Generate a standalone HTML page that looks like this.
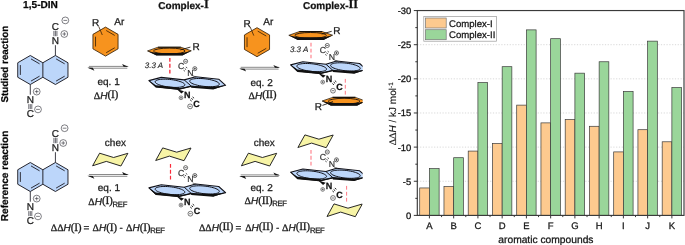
<!DOCTYPE html>
<html><head><meta charset="utf-8"><title>figure</title>
<style>
html,body{margin:0;padding:0;background:#fff;}
body{width:685px;height:245px;overflow:hidden;font-family:"Liberation Sans",sans-serif;}
svg{display:block;}
text{text-rendering:geometricPrecision;stroke:#222;stroke-width:0.28px;stroke-linejoin:round;}
</style></head><body>
<svg width="685" height="245" viewBox="0 0 685 245" style="will-change:transform">
<rect x="0" y="0" width="685" height="245" fill="#fff"/>
<defs><clipPath id="cl"><rect x="0" y="0" width="362.6" height="245"/></clipPath></defs>
<g id="scheme" clip-path="url(#cl)">
<text x="40.5" y="8.4" font-size="10.1" text-anchor="middle" font-weight="bold" font-style="normal" font-family='"Liberation Sans", sans-serif' fill="#000" >1,5-DIN</text>
<text x="183.5" y="8.6" font-size="10" text-anchor="middle" font-weight="bold" font-family='"Liberation Sans", sans-serif' fill="#111">Complex-<tspan font-family='"Liberation Serif", serif' font-size="12.3" dy="-0.5">I</tspan></text>
<text x="330.6" y="8.6" font-size="10" text-anchor="middle" font-weight="bold" font-family='"Liberation Sans", sans-serif' fill="#111">Complex-<tspan font-family='"Liberation Serif", serif' font-size="12.3" dy="-0.5">II</tspan></text>
<text transform="translate(7.6,64.2) rotate(-90)" font-size="9.8" text-anchor="middle" font-weight="bold" font-family='"Liberation Sans", sans-serif' fill="#000">Studied reaction</text>
<text transform="translate(7.6,175.9) rotate(-90)" font-size="10.05" text-anchor="middle" font-weight="bold" font-family='"Liberation Sans", sans-serif' fill="#000">Reference reaction</text>
<polygon points="30.3,55.5 42.86,62.75 55.41,55.5 67.97,62.75 67.97,77.25 55.41,84.5 42.86,77.25 30.3,84.5 17.74,77.25 17.74,62.75" fill="#bcd6fa" stroke="#25252e" stroke-width="1" stroke-linejoin="round" />
<line x1="42.86" y1="62.75" x2="42.86" y2="77.25" stroke="#25252e" stroke-width="1" />
<line x1="31.01" y1="58.91" x2="39.55" y2="63.84" stroke="#25252e" stroke-width="0.95" />
<line x1="39.55" y1="76.16" x2="31.01" y2="81.09" stroke="#25252e" stroke-width="0.95" />
<line x1="20.34" y1="74.93" x2="20.34" y2="65.07" stroke="#25252e" stroke-width="0.95" />
<line x1="56.12" y1="58.91" x2="64.66" y2="63.84" stroke="#25252e" stroke-width="0.95" />
<line x1="64.66" y1="76.16" x2="56.12" y2="81.09" stroke="#25252e" stroke-width="0.95" />
<line x1="55.41" y1="55.5" x2="55.41" y2="45.2" stroke="#2a2a33" stroke-width="0.9" />
<text x="55.41" y="44.1" font-size="10" text-anchor="middle" font-weight="normal" font-style="normal" font-family='"Liberation Sans", sans-serif' fill="#1a1a1a" >N</text>
<line x1="53.91" y1="36.2" x2="53.91" y2="30.9" stroke="#2a2a33" stroke-width="0.7" />
<line x1="55.41" y1="36.2" x2="55.41" y2="30.9" stroke="#2a2a33" stroke-width="0.7" />
<line x1="56.91" y1="36.2" x2="56.91" y2="30.9" stroke="#2a2a33" stroke-width="0.7" />
<text x="55.41" y="29.9" font-size="10" text-anchor="middle" font-weight="normal" font-style="normal" font-family='"Liberation Sans", sans-serif' fill="#1a1a1a" >C</text>
<circle cx="64.31" cy="34" r="3.4" fill="#fff" stroke="#2a2a33" stroke-width="0.6"/>
<line x1="62.44" y1="34" x2="66.18" y2="34" stroke="#2a2a33" stroke-width="0.6" />
<line x1="64.31" y1="32.13" x2="64.31" y2="35.87" stroke="#2a2a33" stroke-width="0.6" />
<circle cx="65.31" cy="20.4" r="3.4" fill="#fff" stroke="#2a2a33" stroke-width="0.6"/>
<line x1="63.44" y1="20.4" x2="67.18" y2="20.4" stroke="#2a2a33" stroke-width="0.6" />
<line x1="30.3" y1="84.5" x2="30.3" y2="94.7" stroke="#2a2a33" stroke-width="0.9" />
<text x="30.3" y="102.8" font-size="10" text-anchor="middle" font-weight="normal" font-style="normal" font-family='"Liberation Sans", sans-serif' fill="#1a1a1a" >N</text>
<line x1="28.8" y1="104.1" x2="28.8" y2="109.1" stroke="#2a2a33" stroke-width="0.7" />
<line x1="30.3" y1="104.1" x2="30.3" y2="109.1" stroke="#2a2a33" stroke-width="0.7" />
<line x1="31.8" y1="104.1" x2="31.8" y2="109.1" stroke="#2a2a33" stroke-width="0.7" />
<text x="30.3" y="116.8" font-size="10" text-anchor="middle" font-weight="normal" font-style="normal" font-family='"Liberation Sans", sans-serif' fill="#1a1a1a" >C</text>
<circle cx="36.7" cy="91.6" r="3.4" fill="#fff" stroke="#2a2a33" stroke-width="0.6"/>
<line x1="34.83" y1="91.6" x2="38.57" y2="91.6" stroke="#2a2a33" stroke-width="0.6" />
<line x1="36.7" y1="89.73" x2="36.7" y2="93.47" stroke="#2a2a33" stroke-width="0.6" />
<circle cx="38" cy="109.4" r="3.4" fill="#fff" stroke="#2a2a33" stroke-width="0.6"/>
<line x1="36.13" y1="109.4" x2="39.87" y2="109.4" stroke="#2a2a33" stroke-width="0.6" />
<polygon points="30.3,162.5 42.86,169.75 55.41,162.5 67.97,169.75 67.97,184.25 55.41,191.5 42.86,184.25 30.3,191.5 17.74,184.25 17.74,169.75" fill="#bcd6fa" stroke="#25252e" stroke-width="1" stroke-linejoin="round" />
<line x1="42.86" y1="169.75" x2="42.86" y2="184.25" stroke="#25252e" stroke-width="1" />
<line x1="31.01" y1="165.91" x2="39.55" y2="170.84" stroke="#25252e" stroke-width="0.95" />
<line x1="39.55" y1="183.16" x2="31.01" y2="188.09" stroke="#25252e" stroke-width="0.95" />
<line x1="20.34" y1="181.93" x2="20.34" y2="172.07" stroke="#25252e" stroke-width="0.95" />
<line x1="56.12" y1="165.91" x2="64.66" y2="170.84" stroke="#25252e" stroke-width="0.95" />
<line x1="64.66" y1="183.16" x2="56.12" y2="188.09" stroke="#25252e" stroke-width="0.95" />
<line x1="55.41" y1="162.5" x2="55.41" y2="152.2" stroke="#2a2a33" stroke-width="0.9" />
<text x="55.41" y="151.1" font-size="10" text-anchor="middle" font-weight="normal" font-style="normal" font-family='"Liberation Sans", sans-serif' fill="#1a1a1a" >N</text>
<line x1="53.91" y1="143.2" x2="53.91" y2="137.9" stroke="#2a2a33" stroke-width="0.7" />
<line x1="55.41" y1="143.2" x2="55.41" y2="137.9" stroke="#2a2a33" stroke-width="0.7" />
<line x1="56.91" y1="143.2" x2="56.91" y2="137.9" stroke="#2a2a33" stroke-width="0.7" />
<text x="55.41" y="136.9" font-size="10" text-anchor="middle" font-weight="normal" font-style="normal" font-family='"Liberation Sans", sans-serif' fill="#1a1a1a" >C</text>
<circle cx="63.21" cy="143" r="3.4" fill="#fff" stroke="#2a2a33" stroke-width="0.6"/>
<line x1="61.34" y1="143" x2="65.08" y2="143" stroke="#2a2a33" stroke-width="0.6" />
<line x1="63.21" y1="141.13" x2="63.21" y2="144.87" stroke="#2a2a33" stroke-width="0.6" />
<circle cx="64.61" cy="128.2" r="3.4" fill="#fff" stroke="#2a2a33" stroke-width="0.6"/>
<line x1="62.74" y1="128.2" x2="66.48" y2="128.2" stroke="#2a2a33" stroke-width="0.6" />
<line x1="30.3" y1="191.5" x2="30.3" y2="201.7" stroke="#2a2a33" stroke-width="0.9" />
<text x="30.3" y="209.8" font-size="10" text-anchor="middle" font-weight="normal" font-style="normal" font-family='"Liberation Sans", sans-serif' fill="#1a1a1a" >N</text>
<line x1="28.8" y1="211.1" x2="28.8" y2="216.1" stroke="#2a2a33" stroke-width="0.7" />
<line x1="30.3" y1="211.1" x2="30.3" y2="216.1" stroke="#2a2a33" stroke-width="0.7" />
<line x1="31.8" y1="211.1" x2="31.8" y2="216.1" stroke="#2a2a33" stroke-width="0.7" />
<text x="30.3" y="223.8" font-size="10" text-anchor="middle" font-weight="normal" font-style="normal" font-family='"Liberation Sans", sans-serif' fill="#1a1a1a" >C</text>
<circle cx="36.7" cy="198.6" r="3.4" fill="#fff" stroke="#2a2a33" stroke-width="0.6"/>
<line x1="34.83" y1="198.6" x2="38.57" y2="198.6" stroke="#2a2a33" stroke-width="0.6" />
<line x1="36.7" y1="196.73" x2="36.7" y2="200.47" stroke="#2a2a33" stroke-width="0.6" />
<circle cx="38" cy="216.4" r="3.4" fill="#fff" stroke="#2a2a33" stroke-width="0.6"/>
<line x1="36.13" y1="216.4" x2="39.87" y2="216.4" stroke="#2a2a33" stroke-width="0.6" />
<polygon points="105.5,27.1 118.06,34.35 118.06,48.85 105.5,56.1 92.94,48.85 92.94,34.35" fill="#f7931e" stroke="#3b2206" stroke-width="0.85" stroke-linejoin="round" />
<line x1="106.21" y1="30.51" x2="114.75" y2="35.44" stroke="#3b2206" stroke-width="0.85" />
<line x1="114.75" y1="47.76" x2="106.21" y2="52.69" stroke="#3b2206" stroke-width="0.85" />
<line x1="95.54" y1="46.53" x2="95.54" y2="36.67" stroke="#3b2206" stroke-width="0.85" />
<line x1="98.7" y1="26.4" x2="102.3" y2="35" stroke="#3b2206" stroke-width="0.8" />
<text x="95.6" y="26.2" font-size="10" text-anchor="middle" font-weight="normal" font-style="normal" font-family='"Liberation Sans", sans-serif' fill="#1a1a1a" >R</text>
<text x="119.3" y="24.8" font-size="10" text-anchor="middle" font-weight="normal" font-style="normal" font-family='"Liberation Sans", sans-serif' fill="#1a1a1a" >Ar</text>
<polygon points="257,27.7 269.56,34.95 269.56,49.45 257,56.7 244.44,49.45 244.44,34.95" fill="#f7931e" stroke="#3b2206" stroke-width="0.85" stroke-linejoin="round" />
<line x1="257.71" y1="31.11" x2="266.25" y2="36.04" stroke="#3b2206" stroke-width="0.85" />
<line x1="266.25" y1="48.36" x2="257.71" y2="53.29" stroke="#3b2206" stroke-width="0.85" />
<line x1="247.04" y1="47.13" x2="247.04" y2="37.27" stroke="#3b2206" stroke-width="0.85" />
<line x1="250.2" y1="27" x2="253.8" y2="35.6" stroke="#3b2206" stroke-width="0.8" />
<text x="247.2" y="26.8" font-size="10" text-anchor="middle" font-weight="normal" font-style="normal" font-family='"Liberation Sans", sans-serif' fill="#1a1a1a" >R</text>
<text x="268.3" y="24.8" font-size="10" text-anchor="middle" font-weight="normal" font-style="normal" font-family='"Liberation Sans", sans-serif' fill="#1a1a1a" >Ar</text>
<line x1="88.9" y1="66.4" x2="127.5" y2="66.4" stroke="#4a4a4a" stroke-width="0.65" />
<polygon points="128.8,67 122.1,64 123.6,66.85" fill="#1a1a1a"/>
<line x1="88.7" y1="68.2" x2="127.3" y2="68.2" stroke="#4a4a4a" stroke-width="0.65" />
<polygon points="87.4,67.6 94.4,70.7 92.8,67.8" fill="#1a1a1a"/>
<line x1="240.7" y1="67.3" x2="278.8" y2="67.3" stroke="#4a4a4a" stroke-width="0.65" />
<polygon points="280.1,67.9 273.4,64.9 274.9,67.75" fill="#1a1a1a"/>
<line x1="240.5" y1="69.1" x2="278.6" y2="69.1" stroke="#4a4a4a" stroke-width="0.65" />
<polygon points="239.2,68.5 246.2,71.6 244.6,68.7" fill="#1a1a1a"/>
<line x1="88.9" y1="174.5" x2="127.5" y2="174.5" stroke="#4a4a4a" stroke-width="0.65" />
<polygon points="128.8,175.1 122.1,172.1 123.6,174.95" fill="#1a1a1a"/>
<line x1="88.7" y1="176.3" x2="127.3" y2="176.3" stroke="#4a4a4a" stroke-width="0.65" />
<polygon points="87.4,175.7 94.4,178.8 92.8,175.9" fill="#1a1a1a"/>
<line x1="240.7" y1="174.9" x2="278.8" y2="174.9" stroke="#4a4a4a" stroke-width="0.65" />
<polygon points="280.1,175.5 273.4,172.5 274.9,175.35" fill="#1a1a1a"/>
<line x1="240.5" y1="176.5" x2="278.6" y2="176.5" stroke="#4a4a4a" stroke-width="0.65" />
<polygon points="239.2,175.9 246.2,179 244.6,176.1" fill="#1a1a1a"/>
<text x="108.6" y="84.7" font-size="10" text-anchor="middle" font-weight="normal" font-style="normal" font-family='"Liberation Sans", sans-serif' fill="#1a1a1a" >eq. 1</text>
<text x="106" y="98.7" font-size="10" text-anchor="middle" font-weight="normal" font-style="normal" font-family='"Liberation Sans", sans-serif' fill="#1a1a1a" ><tspan font-family='"Liberation Serif", serif' font-size="10">&#916;</tspan><tspan font-style="italic">H</tspan><tspan font-family='"Liberation Serif", serif' font-size="11.5" letter-spacing="-0.3" dy="-0.5">(I)</tspan></text>
<text x="261.6" y="85.6" font-size="10" text-anchor="middle" font-weight="normal" font-style="normal" font-family='"Liberation Sans", sans-serif' fill="#1a1a1a" >eq. 2</text>
<text x="262.4" y="98.8" font-size="10" text-anchor="middle" font-weight="normal" font-style="normal" font-family='"Liberation Sans", sans-serif' fill="#1a1a1a" ><tspan font-family='"Liberation Serif", serif' font-size="10">&#916;</tspan><tspan font-style="italic">H</tspan><tspan font-family='"Liberation Serif", serif' font-size="11.5" letter-spacing="-0.3" dy="-0.5">(II)</tspan></text>
<text x="115.4" y="145.8" font-size="10" text-anchor="middle" font-weight="normal" font-style="normal" font-family='"Liberation Sans", sans-serif' fill="#1a1a1a" >chex</text>
<text x="264.2" y="145.8" font-size="10" text-anchor="middle" font-weight="normal" font-style="normal" font-family='"Liberation Sans", sans-serif' fill="#1a1a1a" >chex</text>
<text x="108.9" y="191.2" font-size="10" text-anchor="middle" font-weight="normal" font-style="normal" font-family='"Liberation Sans", sans-serif' fill="#1a1a1a" >eq. 1</text>
<text x="107.7" y="204.5" font-size="10" text-anchor="middle" font-weight="normal" font-style="normal" font-family='"Liberation Sans", sans-serif' fill="#1a1a1a" ><tspan font-family='"Liberation Serif", serif' font-size="10">&#916;</tspan><tspan font-style="italic">H</tspan><tspan font-family='"Liberation Serif", serif' font-size="11.5" letter-spacing="-0.3" dy="-0.5">(I)</tspan><tspan font-size="7.7" letter-spacing="-0.3" dy="2.5">REF</tspan></text>
<text x="261.6" y="191.4" font-size="10" text-anchor="middle" font-weight="normal" font-style="normal" font-family='"Liberation Sans", sans-serif' fill="#1a1a1a" >eq. 2</text>
<text x="265.6" y="204.4" font-size="10" text-anchor="middle" font-weight="normal" font-style="normal" font-family='"Liberation Sans", sans-serif' fill="#1a1a1a" ><tspan font-family='"Liberation Serif", serif' font-size="10">&#916;</tspan><tspan font-style="italic">H</tspan><tspan font-family='"Liberation Serif", serif' font-size="11.5" letter-spacing="-0.3" dy="-0.8">(II)</tspan><tspan font-size="7.7" letter-spacing="-0.3" dy="2.8">REF</tspan></text>
<polygon points="92.6,165.8 99.6,153.2 113.6,157.5 127.9,153.3 120.9,166 106.3,161.4" fill="#f7f4a6" stroke="#1c1c1c" stroke-width="0.95" stroke-linejoin="round" />
<polygon points="241.4,165.8 248.4,153.2 262.4,157.5 276.7,153.3 269.7,166 255.1,161.4" fill="#f7f4a6" stroke="#1c1c1c" stroke-width="0.95" stroke-linejoin="round" />
<polygon points="155.7,160.5 162.7,147.9 176.7,152.2 191,148 184,160.7 169.4,156.1" fill="#f7f4a6" stroke="#1c1c1c" stroke-width="0.95" stroke-linejoin="round" />
<polygon points="297.9,147.5 304.9,134.9 318.9,139.2 333.2,135 326.2,147.7 311.6,143.1" fill="#f7f4a6" stroke="#1c1c1c" stroke-width="0.95" stroke-linejoin="round" />
<polygon points="327,216.5 334,203.9 348,208.2 362.3,204 355.3,216.7 340.7,212.1" fill="#f7f4a6" stroke="#1c1c1c" stroke-width="0.95" stroke-linejoin="round" />
<polygon points="147.5,50.9 158,47.2 180.8,47.2 191.3,50.8 182.5,54.8 156.3,54.8" fill="#f7931e" stroke="#1a1208" stroke-width="0.7" stroke-linejoin="round" />
<line x1="158" y1="47.2" x2="180.8" y2="47.2" stroke="#1a1208" stroke-width="1.1" />
<ellipse cx="169.3" cy="51" rx="15.8" ry="2.9" fill="#f7931e" stroke="#15100a" stroke-width="0.9"/>
<polygon points="147.5,50.9 156.3,52.9 182.5,52.9 191.3,50.8 182.5,55.5 156.3,55.5" fill="#111"/>
<line x1="180.3" y1="49.9" x2="190.4" y2="47.1" stroke="#1a1208" stroke-width="0.85" />
<text x="196.2" y="50.2" font-size="10" text-anchor="middle" font-weight="normal" font-style="normal" font-family='"Liberation Sans", sans-serif' fill="#1a1a1a" >R</text>
<polygon points="148.9,80.6 161.2,77.4 184.2,79.9 195.7,76.7 218.7,79.2 225.6,85.3 213.3,88.5 191.1,86 178.8,89.2 155.8,86.7" fill="#bcd6fa" stroke="#111118" stroke-width="1.1" stroke-linejoin="round" />
<line x1="184.2" y1="79.9" x2="191.1" y2="86" stroke="#111118" stroke-width="1" />
<polygon points="155.23,81.41 155.54,80.95 156.1,80.52 156.9,80.15 157.92,79.82 159.14,79.56 160.56,79.36 162.13,79.23 163.84,79.17 165.65,79.18 167.54,79.26 169.47,79.41 171.41,79.62 173.33,79.9 175.19,80.24 176.96,80.63 178.61,81.06 180.11,81.53 181.44,82.04 182.58,82.56 183.5,83.1 184.19,83.64 184.63,84.17 184.83,84.69 184.77,85.19 184.46,85.65 183.9,86.08 183.1,86.45 182.08,86.78 180.86,87.04 179.44,87.24 177.87,87.37 176.16,87.43 174.35,87.42 172.46,87.34 170.53,87.19 168.59,86.98 166.67,86.7 164.81,86.36 163.04,85.97 161.39,85.54 159.89,85.07 158.56,84.56 157.42,84.04 156.5,83.5 155.81,82.96 155.37,82.43 155.17,81.91" fill="#bcd6fa" stroke="#111118" stroke-width="1" stroke-linejoin="round" />
<polygon points="189.73,80.71 190.04,80.25 190.6,79.82 191.4,79.45 192.42,79.12 193.64,78.86 195.06,78.66 196.63,78.53 198.34,78.47 200.15,78.48 202.04,78.56 203.97,78.71 205.91,78.92 207.83,79.2 209.69,79.54 211.46,79.93 213.11,80.36 214.61,80.83 215.94,81.34 217.08,81.86 218,82.4 218.69,82.94 219.13,83.47 219.33,83.99 219.27,84.49 218.96,84.95 218.4,85.38 217.6,85.75 216.58,86.08 215.36,86.34 213.94,86.54 212.37,86.67 210.66,86.73 208.85,86.72 206.96,86.64 205.03,86.49 203.09,86.28 201.17,86 199.31,85.66 197.54,85.27 195.89,84.84 194.39,84.37 193.06,83.86 191.92,83.34 191,82.8 190.31,82.26 189.87,81.73 189.67,81.21" fill="#bcd6fa" stroke="#111118" stroke-width="1" stroke-linejoin="round" />
<polygon points="148.9,80.6 155.8,85.2 178.8,87.5 179.8,90 155.8,87.6" fill="#111"/>
<polygon points="191.1,86 213.3,86.8 225.6,85.3 213.3,89.4 191.1,87.8" fill="#111"/>
<polygon points="191.1,86 178.8,88.2 178.8,89.7 191.1,87" fill="#111"/>
<polygon points="176.6,88.9 184,91.2 181.4,93.5" fill="#111"/>
<text x="187.3" y="98" font-size="9" text-anchor="middle" font-weight="bold" font-style="normal" font-family='"Liberation Sans", sans-serif' fill="#111" >N</text>
<text x="196.6" y="106.6" font-size="9" text-anchor="middle" font-weight="bold" font-style="normal" font-family='"Liberation Sans", sans-serif' fill="#111" >C</text>
<line x1="190.12" y1="99.8" x2="191.64" y2="101.08" stroke="#111" stroke-width="0.95" />
<line x1="191.34" y1="98.36" x2="192.86" y2="99.64" stroke="#111" stroke-width="0.95" />
<line x1="192.56" y1="96.92" x2="194.08" y2="98.2" stroke="#111" stroke-width="0.95" />
<circle cx="181" cy="97.8" r="1.9" fill="#fff" stroke="#111" stroke-width="0.5"/>
<line x1="179.96" y1="97.8" x2="182.04" y2="97.8" stroke="#111" stroke-width="0.5" />
<line x1="181" y1="96.75" x2="181" y2="98.84" stroke="#111" stroke-width="0.5" />
<circle cx="190.1" cy="106.4" r="2.4" fill="#fff" stroke="#111" stroke-width="0.55"/>
<line x1="188.78" y1="106.4" x2="191.42" y2="106.4" stroke="#111" stroke-width="0.55" />
<text x="181.1" y="69.1" font-size="8.7" text-anchor="middle" font-weight="normal" font-style="normal" font-family='"Liberation Sans", sans-serif' fill="#333" style="stroke-width:0.15px">C</text>
<text x="190.3" y="75.72" font-size="8.7" text-anchor="middle" font-weight="normal" font-style="normal" font-family='"Liberation Sans", sans-serif' fill="#333" style="stroke-width:0.15px">N</text>
<line x1="183.55" y1="70.24" x2="184.94" y2="71.22" stroke="#222" stroke-width="0.8" />
<line x1="184.71" y1="68.61" x2="186.09" y2="69.59" stroke="#222" stroke-width="0.8" />
<line x1="185.86" y1="66.98" x2="187.25" y2="67.96" stroke="#222" stroke-width="0.8" />
<circle cx="185.6" cy="61.3" r="2.05" fill="#fff" stroke="#222" stroke-width="0.65"/>
<line x1="184.47" y1="61.3" x2="186.73" y2="61.3" stroke="#222" stroke-width="0.65" />
<circle cx="194.8" cy="68.7" r="2.05" fill="#fff" stroke="#222" stroke-width="0.65"/>
<line x1="193.67" y1="68.7" x2="195.93" y2="68.7" stroke="#222" stroke-width="0.65" />
<line x1="194.8" y1="67.57" x2="194.8" y2="69.83" stroke="#222" stroke-width="0.65" />
<line x1="192.5" y1="75.6" x2="196" y2="77" stroke="#333" stroke-width="0.7" />
<line x1="169.85" y1="57.9" x2="169.85" y2="73.7" stroke="#f53a48" stroke-width="1.45" stroke-dasharray="3.8 2.15"/>
<text x="154" y="68.3" font-size="8" text-anchor="middle" font-weight="normal" font-style="italic" font-family='"Liberation Sans", sans-serif' fill="#1a1a1a" style="stroke-width:0.12px">3.3 A</text>
<polygon points="148.9,187.9 161.2,184.7 184.2,187.2 195.7,184 218.7,186.5 225.6,192.6 213.3,195.8 191.1,193.3 178.8,196.5 155.8,194" fill="#bcd6fa" stroke="#111118" stroke-width="1.1" stroke-linejoin="round" />
<line x1="184.2" y1="187.2" x2="191.1" y2="193.3" stroke="#111118" stroke-width="1" />
<polygon points="155.23,188.71 155.54,188.25 156.1,187.82 156.9,187.45 157.92,187.12 159.14,186.86 160.56,186.66 162.13,186.53 163.84,186.47 165.65,186.48 167.54,186.56 169.47,186.71 171.41,186.92 173.33,187.2 175.19,187.54 176.96,187.93 178.61,188.36 180.11,188.83 181.44,189.34 182.58,189.86 183.5,190.4 184.19,190.94 184.63,191.47 184.83,191.99 184.77,192.49 184.46,192.95 183.9,193.38 183.1,193.75 182.08,194.08 180.86,194.34 179.44,194.54 177.87,194.67 176.16,194.73 174.35,194.72 172.46,194.64 170.53,194.49 168.59,194.28 166.67,194 164.81,193.66 163.04,193.27 161.39,192.84 159.89,192.37 158.56,191.86 157.42,191.34 156.5,190.8 155.81,190.26 155.37,189.73 155.17,189.21" fill="#bcd6fa" stroke="#111118" stroke-width="1" stroke-linejoin="round" />
<polygon points="189.73,188.01 190.04,187.55 190.6,187.12 191.4,186.75 192.42,186.42 193.64,186.16 195.06,185.96 196.63,185.83 198.34,185.77 200.15,185.78 202.04,185.86 203.97,186.01 205.91,186.22 207.83,186.5 209.69,186.84 211.46,187.23 213.11,187.66 214.61,188.13 215.94,188.64 217.08,189.16 218,189.7 218.69,190.24 219.13,190.77 219.33,191.29 219.27,191.79 218.96,192.25 218.4,192.68 217.6,193.05 216.58,193.38 215.36,193.64 213.94,193.84 212.37,193.97 210.66,194.03 208.85,194.02 206.96,193.94 205.03,193.79 203.09,193.58 201.17,193.3 199.31,192.96 197.54,192.57 195.89,192.14 194.39,191.67 193.06,191.16 191.92,190.64 191,190.1 190.31,189.56 189.87,189.03 189.67,188.51" fill="#bcd6fa" stroke="#111118" stroke-width="1" stroke-linejoin="round" />
<polygon points="148.9,187.9 155.8,192.5 178.8,194.8 179.8,197.3 155.8,194.9" fill="#111"/>
<polygon points="191.1,193.3 213.3,194.1 225.6,192.6 213.3,196.7 191.1,195.1" fill="#111"/>
<polygon points="191.1,193.3 178.8,195.5 178.8,197 191.1,194.3" fill="#111"/>
<polygon points="176.6,196.2 184,198.5 181.4,200.8" fill="#111"/>
<text x="187.3" y="205.1" font-size="9" text-anchor="middle" font-weight="bold" font-style="normal" font-family='"Liberation Sans", sans-serif' fill="#111" >N</text>
<text x="196.9" y="214" font-size="9" text-anchor="middle" font-weight="bold" font-style="normal" font-family='"Liberation Sans", sans-serif' fill="#111" >C</text>
<line x1="190.27" y1="207.05" x2="191.79" y2="208.33" stroke="#111" stroke-width="0.95" />
<line x1="191.49" y1="205.61" x2="193.01" y2="206.89" stroke="#111" stroke-width="0.95" />
<line x1="192.71" y1="204.17" x2="194.23" y2="205.45" stroke="#111" stroke-width="0.95" />
<circle cx="181" cy="205.1" r="1.9" fill="#fff" stroke="#111" stroke-width="0.5"/>
<line x1="179.96" y1="205.1" x2="182.04" y2="205.1" stroke="#111" stroke-width="0.5" />
<line x1="181" y1="204.06" x2="181" y2="206.14" stroke="#111" stroke-width="0.5" />
<circle cx="190.4" cy="213.7" r="2.4" fill="#fff" stroke="#111" stroke-width="0.55"/>
<line x1="189.08" y1="213.7" x2="191.72" y2="213.7" stroke="#111" stroke-width="0.55" />
<text x="181.1" y="175.5" font-size="8.7" text-anchor="middle" font-weight="normal" font-style="normal" font-family='"Liberation Sans", sans-serif' fill="#333" style="stroke-width:0.15px">C</text>
<text x="190.3" y="182.39" font-size="8.7" text-anchor="middle" font-weight="normal" font-style="normal" font-family='"Liberation Sans", sans-serif' fill="#333" style="stroke-width:0.15px">N</text>
<line x1="183.55" y1="176.64" x2="184.94" y2="177.62" stroke="#222" stroke-width="0.8" />
<line x1="184.71" y1="175.01" x2="186.09" y2="175.99" stroke="#222" stroke-width="0.8" />
<line x1="185.86" y1="173.38" x2="187.25" y2="174.36" stroke="#222" stroke-width="0.8" />
<circle cx="185.6" cy="167.7" r="2.05" fill="#fff" stroke="#222" stroke-width="0.65"/>
<line x1="184.47" y1="167.7" x2="186.73" y2="167.7" stroke="#222" stroke-width="0.65" />
<circle cx="194.8" cy="175.55" r="2.05" fill="#fff" stroke="#222" stroke-width="0.65"/>
<line x1="193.67" y1="175.55" x2="195.93" y2="175.55" stroke="#222" stroke-width="0.65" />
<line x1="194.8" y1="174.42" x2="194.8" y2="176.68" stroke="#222" stroke-width="0.65" />
<line x1="192.5" y1="182.9" x2="196" y2="184.3" stroke="#333" stroke-width="0.7" />
<line x1="170.5" y1="163.9" x2="170.5" y2="179.5" stroke="#fa2a3a" stroke-width="1.2" stroke-dasharray="3.8 2.15"/>
<polygon points="288.8,35.3 299.3,31.6 322.1,31.6 332.6,35.2 323.8,39.2 297.6,39.2" fill="#f7931e" stroke="#1a1208" stroke-width="0.7" stroke-linejoin="round" />
<line x1="299.3" y1="31.6" x2="322.1" y2="31.6" stroke="#1a1208" stroke-width="1.1" />
<ellipse cx="310.6" cy="35.4" rx="15.8" ry="2.9" fill="#f7931e" stroke="#15100a" stroke-width="0.9"/>
<polygon points="288.8,35.3 297.6,37.3 323.8,37.3 332.6,35.2 323.8,39.9 297.6,39.9" fill="#111"/>
<line x1="321.6" y1="34.1" x2="331.7" y2="31.3" stroke="#1a1208" stroke-width="0.85" />
<text x="336.8" y="34" font-size="10" text-anchor="middle" font-weight="normal" font-style="normal" font-family='"Liberation Sans", sans-serif' fill="#1a1a1a" >R</text>
<polygon points="290.6,64.9 302.9,61.7 325.9,64.2 336.6,61 359.6,63.5 366.5,69.6 354.2,72.8 332.8,70.3 320.5,73.5 297.5,71" fill="#bcd6fa" stroke="#111118" stroke-width="1.1" stroke-linejoin="round" />
<line x1="325.9" y1="64.2" x2="332.8" y2="70.3" stroke="#111118" stroke-width="1" />
<polygon points="296.93,65.71 297.24,65.25 297.8,64.82 298.6,64.45 299.62,64.12 300.84,63.86 302.26,63.66 303.83,63.53 305.54,63.47 307.35,63.48 309.24,63.56 311.17,63.71 313.11,63.92 315.03,64.2 316.89,64.54 318.66,64.93 320.31,65.36 321.81,65.83 323.14,66.34 324.28,66.86 325.2,67.4 325.89,67.94 326.33,68.47 326.53,68.99 326.47,69.49 326.16,69.95 325.6,70.38 324.8,70.75 323.78,71.08 322.56,71.34 321.14,71.54 319.57,71.67 317.86,71.73 316.05,71.72 314.16,71.64 312.23,71.49 310.29,71.28 308.37,71 306.51,70.66 304.74,70.27 303.09,69.84 301.59,69.37 300.26,68.86 299.12,68.34 298.2,67.8 297.51,67.26 297.07,66.73 296.87,66.21" fill="#bcd6fa" stroke="#111118" stroke-width="1" stroke-linejoin="round" />
<polygon points="330.63,65.01 330.94,64.55 331.5,64.12 332.3,63.75 333.32,63.42 334.54,63.16 335.96,62.96 337.53,62.83 339.24,62.77 341.05,62.78 342.94,62.86 344.87,63.01 346.81,63.22 348.73,63.5 350.59,63.84 352.36,64.23 354.01,64.66 355.51,65.13 356.84,65.64 357.98,66.16 358.9,66.7 359.59,67.24 360.03,67.77 360.23,68.29 360.17,68.79 359.86,69.25 359.3,69.68 358.5,70.05 357.48,70.38 356.26,70.64 354.84,70.84 353.27,70.97 351.56,71.03 349.75,71.02 347.86,70.94 345.93,70.79 343.99,70.58 342.07,70.3 340.21,69.96 338.44,69.57 336.79,69.14 335.29,68.67 333.96,68.16 332.82,67.64 331.9,67.1 331.21,66.56 330.77,66.03 330.57,65.51" fill="#bcd6fa" stroke="#111118" stroke-width="1" stroke-linejoin="round" />
<polygon points="290.6,64.9 297.5,69.5 320.5,71.8 321.5,74.3 297.5,71.9" fill="#111"/>
<polygon points="332.8,70.3 354.2,71.1 366.5,69.6 354.2,73.7 332.8,72.1" fill="#111"/>
<polygon points="332.8,70.3 320.5,72.5 320.5,74 332.8,71.3" fill="#111"/>
<polygon points="318.3,73.2 325.7,75.5 323.1,77.8" fill="#111"/>
<text x="329" y="82" font-size="9" text-anchor="middle" font-weight="bold" font-style="normal" font-family='"Liberation Sans", sans-serif' fill="#111" >N</text>
<text x="339.5" y="90.1" font-size="9" text-anchor="middle" font-weight="bold" font-style="normal" font-family='"Liberation Sans", sans-serif' fill="#111" >C</text>
<line x1="332.42" y1="83.55" x2="333.94" y2="84.83" stroke="#111" stroke-width="0.95" />
<line x1="333.64" y1="82.11" x2="335.16" y2="83.39" stroke="#111" stroke-width="0.95" />
<line x1="334.86" y1="80.67" x2="336.38" y2="81.95" stroke="#111" stroke-width="0.95" />
<circle cx="322.7" cy="82.1" r="1.9" fill="#fff" stroke="#111" stroke-width="0.5"/>
<line x1="321.65" y1="82.1" x2="323.75" y2="82.1" stroke="#111" stroke-width="0.5" />
<line x1="322.7" y1="81.05" x2="322.7" y2="83.14" stroke="#111" stroke-width="0.5" />
<circle cx="333" cy="90.7" r="2.4" fill="#fff" stroke="#111" stroke-width="0.55"/>
<line x1="331.68" y1="90.7" x2="334.32" y2="90.7" stroke="#111" stroke-width="0.55" />
<text x="322.8" y="53.3" font-size="8.7" text-anchor="middle" font-weight="normal" font-style="normal" font-family='"Liberation Sans", sans-serif' fill="#333" style="stroke-width:0.15px">C</text>
<text x="332" y="59.95" font-size="8.7" text-anchor="middle" font-weight="normal" font-style="normal" font-family='"Liberation Sans", sans-serif' fill="#333" style="stroke-width:0.15px">N</text>
<line x1="325.25" y1="54.44" x2="326.64" y2="55.42" stroke="#222" stroke-width="0.8" />
<line x1="326.41" y1="52.81" x2="327.79" y2="53.79" stroke="#222" stroke-width="0.8" />
<line x1="327.56" y1="51.18" x2="328.95" y2="52.16" stroke="#222" stroke-width="0.8" />
<circle cx="327.3" cy="45.5" r="2.05" fill="#fff" stroke="#222" stroke-width="0.65"/>
<line x1="326.17" y1="45.5" x2="328.43" y2="45.5" stroke="#222" stroke-width="0.65" />
<circle cx="336.5" cy="52.95" r="2.05" fill="#fff" stroke="#222" stroke-width="0.65"/>
<line x1="335.37" y1="52.95" x2="337.63" y2="52.95" stroke="#222" stroke-width="0.65" />
<line x1="336.5" y1="51.82" x2="336.5" y2="54.08" stroke="#222" stroke-width="0.65" />
<line x1="334.2" y1="59.9" x2="337.7" y2="61.3" stroke="#333" stroke-width="0.7" />
<line x1="311" y1="42.8" x2="311" y2="58.2" stroke="#ffa9b0" stroke-width="1.7" stroke-dasharray="3.8 2.15"/>
<line x1="345.3" y1="78.9" x2="345.3" y2="94.7" stroke="#ff6b78" stroke-width="0.9" stroke-dasharray="3.8 2.15"/>
<text x="299.1" y="52.4" font-size="8" text-anchor="middle" font-weight="normal" font-style="italic" font-family='"Liberation Sans", sans-serif' fill="#1a1a1a" style="stroke-width:0.12px">3.3 A</text>
<polygon points="365.9,101.1 355.4,97.4 332.6,97.4 322.1,101 330.9,105 357.1,105" fill="#f7931e" stroke="#1a1208" stroke-width="0.7" stroke-linejoin="round" />
<line x1="355.4" y1="97.4" x2="332.6" y2="97.4" stroke="#1a1208" stroke-width="1.1" />
<ellipse cx="344.1" cy="101.2" rx="15.8" ry="2.9" fill="#f7931e" stroke="#15100a" stroke-width="0.9"/>
<polygon points="365.9,101.1 357.1,103.1 330.9,103.1 322.1,101 330.9,105.7 357.1,105.7" fill="#111"/>
<line x1="333" y1="101.6" x2="322.4" y2="105.4" stroke="#1a1208" stroke-width="0.85" />
<text x="318.3" y="110.3" font-size="10" text-anchor="middle" font-weight="normal" font-style="normal" font-family='"Liberation Sans", sans-serif' fill="#1a1a1a" >R</text>
<polygon points="290.6,172.2 302.9,169 325.9,171.5 336.6,168.3 359.6,170.8 366.5,176.9 354.2,180.1 332.8,177.6 320.5,180.8 297.5,178.3" fill="#bcd6fa" stroke="#111118" stroke-width="1.1" stroke-linejoin="round" />
<line x1="325.9" y1="171.5" x2="332.8" y2="177.6" stroke="#111118" stroke-width="1" />
<polygon points="296.93,173.01 297.24,172.55 297.8,172.12 298.6,171.75 299.62,171.42 300.84,171.16 302.26,170.96 303.83,170.83 305.54,170.77 307.35,170.78 309.24,170.86 311.17,171.01 313.11,171.22 315.03,171.5 316.89,171.84 318.66,172.23 320.31,172.66 321.81,173.13 323.14,173.64 324.28,174.16 325.2,174.7 325.89,175.24 326.33,175.77 326.53,176.29 326.47,176.79 326.16,177.25 325.6,177.68 324.8,178.05 323.78,178.38 322.56,178.64 321.14,178.84 319.57,178.97 317.86,179.03 316.05,179.02 314.16,178.94 312.23,178.79 310.29,178.58 308.37,178.3 306.51,177.96 304.74,177.57 303.09,177.14 301.59,176.67 300.26,176.16 299.12,175.64 298.2,175.1 297.51,174.56 297.07,174.03 296.87,173.51" fill="#bcd6fa" stroke="#111118" stroke-width="1" stroke-linejoin="round" />
<polygon points="330.63,172.31 330.94,171.85 331.5,171.42 332.3,171.05 333.32,170.72 334.54,170.46 335.96,170.26 337.53,170.13 339.24,170.07 341.05,170.08 342.94,170.16 344.87,170.31 346.81,170.52 348.73,170.8 350.59,171.14 352.36,171.53 354.01,171.96 355.51,172.43 356.84,172.94 357.98,173.46 358.9,174 359.59,174.54 360.03,175.07 360.23,175.59 360.17,176.09 359.86,176.55 359.3,176.98 358.5,177.35 357.48,177.68 356.26,177.94 354.84,178.14 353.27,178.27 351.56,178.33 349.75,178.32 347.86,178.24 345.93,178.09 343.99,177.88 342.07,177.6 340.21,177.26 338.44,176.87 336.79,176.44 335.29,175.97 333.96,175.46 332.82,174.94 331.9,174.4 331.21,173.86 330.77,173.33 330.57,172.81" fill="#bcd6fa" stroke="#111118" stroke-width="1" stroke-linejoin="round" />
<polygon points="290.6,172.2 297.5,176.8 320.5,179.1 321.5,181.6 297.5,179.2" fill="#111"/>
<polygon points="332.8,177.6 354.2,178.4 366.5,176.9 354.2,181 332.8,179.4" fill="#111"/>
<polygon points="332.8,177.6 320.5,179.8 320.5,181.3 332.8,178.6" fill="#111"/>
<polygon points="318.3,180.5 325.7,182.8 323.1,185.1" fill="#111"/>
<text x="329" y="189.2" font-size="9" text-anchor="middle" font-weight="bold" font-style="normal" font-family='"Liberation Sans", sans-serif' fill="#111" >N</text>
<text x="339.5" y="197.6" font-size="9" text-anchor="middle" font-weight="bold" font-style="normal" font-family='"Liberation Sans", sans-serif' fill="#111" >C</text>
<line x1="332.42" y1="190.9" x2="333.94" y2="192.18" stroke="#111" stroke-width="0.95" />
<line x1="333.64" y1="189.46" x2="335.16" y2="190.74" stroke="#111" stroke-width="0.95" />
<line x1="334.86" y1="188.02" x2="336.38" y2="189.3" stroke="#111" stroke-width="0.95" />
<circle cx="322.7" cy="189.4" r="1.9" fill="#fff" stroke="#111" stroke-width="0.5"/>
<line x1="321.65" y1="189.4" x2="323.75" y2="189.4" stroke="#111" stroke-width="0.5" />
<line x1="322.7" y1="188.35" x2="322.7" y2="190.44" stroke="#111" stroke-width="0.5" />
<circle cx="333" cy="198" r="2.4" fill="#fff" stroke="#111" stroke-width="0.55"/>
<line x1="331.68" y1="198" x2="334.32" y2="198" stroke="#111" stroke-width="0.55" />
<text x="322.8" y="159.8" font-size="8.7" text-anchor="middle" font-weight="normal" font-style="normal" font-family='"Liberation Sans", sans-serif' fill="#333" style="stroke-width:0.15px">C</text>
<text x="332" y="166.69" font-size="8.7" text-anchor="middle" font-weight="normal" font-style="normal" font-family='"Liberation Sans", sans-serif' fill="#333" style="stroke-width:0.15px">N</text>
<line x1="325.25" y1="160.94" x2="326.64" y2="161.92" stroke="#222" stroke-width="0.8" />
<line x1="326.41" y1="159.31" x2="327.79" y2="160.29" stroke="#222" stroke-width="0.8" />
<line x1="327.56" y1="157.68" x2="328.95" y2="158.66" stroke="#222" stroke-width="0.8" />
<circle cx="327.3" cy="152" r="2.05" fill="#fff" stroke="#222" stroke-width="0.65"/>
<line x1="326.17" y1="152" x2="328.43" y2="152" stroke="#222" stroke-width="0.65" />
<circle cx="336.5" cy="159.85" r="2.05" fill="#fff" stroke="#222" stroke-width="0.65"/>
<line x1="335.37" y1="159.85" x2="337.63" y2="159.85" stroke="#222" stroke-width="0.65" />
<line x1="336.5" y1="158.72" x2="336.5" y2="160.98" stroke="#222" stroke-width="0.65" />
<line x1="334.2" y1="167.2" x2="337.7" y2="168.6" stroke="#333" stroke-width="0.7" />
<line x1="311" y1="149.9" x2="311" y2="165.7" stroke="#ffa9b0" stroke-width="1.7" stroke-dasharray="3.8 2.15"/>
<line x1="346.6" y1="185.9" x2="346.6" y2="201.7" stroke="#ff6b78" stroke-width="0.9" stroke-dasharray="3.8 2.15"/>
<text x="50.7" y="231.1" font-size="10" text-anchor="start" font-weight="normal" font-style="normal" font-family='"Liberation Sans", sans-serif' fill="#1a1a1a" ><tspan x="50.7" font-family='"Liberation Serif", serif' font-size="10">&#916;</tspan><tspan font-family='"Liberation Serif", serif' font-size="10">&#916;</tspan><tspan font-style="italic">H</tspan><tspan font-family='"Liberation Serif", serif' font-size="11.5" letter-spacing="-0.3" dy="-0.3">(I)</tspan><tspan x="83.4" dy="0.3">=</tspan><tspan x="92.3" font-size="1"> </tspan><tspan font-family='"Liberation Serif", serif' font-size="10">&#916;</tspan><tspan font-style="italic">H</tspan><tspan font-family='"Liberation Serif", serif' font-size="11.5" letter-spacing="-0.3" dy="-0.3">(I)</tspan><tspan x="119.4" dy="0.3">-</tspan><tspan x="125.7" font-size="1"> </tspan><tspan font-family='"Liberation Serif", serif' font-size="10">&#916;</tspan><tspan font-style="italic">H</tspan><tspan font-family='"Liberation Serif", serif' font-size="11.5" letter-spacing="-0.3" dy="-0.3">(I)</tspan><tspan font-size="7.7" letter-spacing="-0.3" dy="2.3">REF</tspan></text>
<text x="198.9" y="231.1" font-size="10" text-anchor="start" font-weight="normal" font-style="normal" font-family='"Liberation Sans", sans-serif' fill="#1a1a1a" ><tspan x="198.9" font-family='"Liberation Serif", serif' font-size="10">&#916;</tspan><tspan font-family='"Liberation Serif", serif' font-size="10">&#916;</tspan><tspan font-style="italic">H</tspan><tspan font-family='"Liberation Serif", serif' font-size="11.5" letter-spacing="-0.3" dy="-1">(II)</tspan><tspan x="235.4" dy="1">=</tspan><tspan x="244.9" font-size="1"> </tspan><tspan font-family='"Liberation Serif", serif' font-size="10">&#916;</tspan><tspan font-style="italic">H</tspan><tspan font-family='"Liberation Serif", serif' font-size="11.5" letter-spacing="-0.3" dy="-1">(II)</tspan><tspan x="275.9" dy="1">-</tspan><tspan x="281.8" font-size="1"> </tspan><tspan font-family='"Liberation Serif", serif' font-size="10">&#916;</tspan><tspan font-style="italic">H</tspan><tspan font-family='"Liberation Serif", serif' font-size="11.5" letter-spacing="-0.3" dy="-1">(II)</tspan><tspan font-size="7.7" letter-spacing="-0.3" dy="3">REF</tspan></text>
</g>
<g id="chart">
<line x1="417.3" y1="181.26" x2="684" y2="181.26" stroke="#c8c8c8" stroke-width="0.7" stroke-dasharray="1.2 1.6"/>
<line x1="417.3" y1="147.12" x2="684" y2="147.12" stroke="#c8c8c8" stroke-width="0.7" stroke-dasharray="1.2 1.6"/>
<line x1="417.3" y1="112.98" x2="684" y2="112.98" stroke="#c8c8c8" stroke-width="0.7" stroke-dasharray="1.2 1.6"/>
<line x1="417.3" y1="78.83" x2="684" y2="78.83" stroke="#c8c8c8" stroke-width="0.7" stroke-dasharray="1.2 1.6"/>
<line x1="417.3" y1="44.69" x2="684" y2="44.69" stroke="#c8c8c8" stroke-width="0.7" stroke-dasharray="1.2 1.6"/>
<rect x="419.72" y="187.95" width="9.7" height="27.45" fill="#fdca8f" stroke="#3a3a3a" stroke-width="0.7"/>
<rect x="429.42" y="168.63" width="9.7" height="46.77" fill="#9ad69a" stroke="#3a3a3a" stroke-width="0.7"/>
<line x1="429.42" y1="215.4" x2="429.42" y2="218.4" stroke="#222" stroke-width="0.9" />
<line x1="441.55" y1="215.4" x2="441.55" y2="217.1" stroke="#222" stroke-width="0.9" />
<text x="429.42" y="228.6" font-size="9.5" text-anchor="middle" font-weight="normal" font-style="normal" font-family='"Liberation Sans", sans-serif' fill="#111" >A</text>
<rect x="443.97" y="186.58" width="9.7" height="28.82" fill="#fdca8f" stroke="#3a3a3a" stroke-width="0.7"/>
<rect x="453.67" y="157.7" width="9.7" height="57.7" fill="#9ad69a" stroke="#3a3a3a" stroke-width="0.7"/>
<line x1="453.67" y1="215.4" x2="453.67" y2="218.4" stroke="#222" stroke-width="0.9" />
<line x1="465.79" y1="215.4" x2="465.79" y2="217.1" stroke="#222" stroke-width="0.9" />
<text x="453.67" y="228.6" font-size="9.5" text-anchor="middle" font-weight="normal" font-style="normal" font-family='"Liberation Sans", sans-serif' fill="#111" >B</text>
<rect x="468.21" y="151.08" width="9.7" height="64.32" fill="#fdca8f" stroke="#3a3a3a" stroke-width="0.7"/>
<rect x="477.91" y="82.59" width="9.7" height="132.81" fill="#9ad69a" stroke="#3a3a3a" stroke-width="0.7"/>
<line x1="477.91" y1="215.4" x2="477.91" y2="218.4" stroke="#222" stroke-width="0.9" />
<line x1="490.04" y1="215.4" x2="490.04" y2="217.1" stroke="#222" stroke-width="0.9" />
<text x="477.91" y="228.6" font-size="9.5" text-anchor="middle" font-weight="normal" font-style="normal" font-family='"Liberation Sans", sans-serif' fill="#111" >C</text>
<rect x="492.46" y="143.5" width="9.7" height="71.9" fill="#fdca8f" stroke="#3a3a3a" stroke-width="0.7"/>
<rect x="502.16" y="66.68" width="9.7" height="148.72" fill="#9ad69a" stroke="#3a3a3a" stroke-width="0.7"/>
<line x1="502.16" y1="215.4" x2="502.16" y2="218.4" stroke="#222" stroke-width="0.9" />
<line x1="514.28" y1="215.4" x2="514.28" y2="217.1" stroke="#222" stroke-width="0.9" />
<text x="502.16" y="228.6" font-size="9.5" text-anchor="middle" font-weight="normal" font-style="normal" font-family='"Liberation Sans", sans-serif' fill="#111" >D</text>
<rect x="516.7" y="105.12" width="9.7" height="110.28" fill="#fdca8f" stroke="#3a3a3a" stroke-width="0.7"/>
<rect x="526.4" y="29.87" width="9.7" height="185.53" fill="#9ad69a" stroke="#3a3a3a" stroke-width="0.7"/>
<line x1="526.4" y1="215.4" x2="526.4" y2="218.4" stroke="#222" stroke-width="0.9" />
<line x1="538.53" y1="215.4" x2="538.53" y2="217.1" stroke="#222" stroke-width="0.9" />
<text x="526.4" y="228.6" font-size="9.5" text-anchor="middle" font-weight="normal" font-style="normal" font-family='"Liberation Sans", sans-serif' fill="#111" >E</text>
<rect x="540.95" y="122.88" width="9.7" height="92.52" fill="#fdca8f" stroke="#3a3a3a" stroke-width="0.7"/>
<rect x="550.65" y="38.68" width="9.7" height="176.72" fill="#9ad69a" stroke="#3a3a3a" stroke-width="0.7"/>
<line x1="550.65" y1="215.4" x2="550.65" y2="218.4" stroke="#222" stroke-width="0.9" />
<line x1="562.77" y1="215.4" x2="562.77" y2="217.1" stroke="#222" stroke-width="0.9" />
<text x="550.65" y="228.6" font-size="9.5" text-anchor="middle" font-weight="normal" font-style="normal" font-family='"Liberation Sans", sans-serif' fill="#111" >F</text>
<rect x="565.2" y="119.6" width="9.7" height="95.8" fill="#fdca8f" stroke="#3a3a3a" stroke-width="0.7"/>
<rect x="574.9" y="73.17" width="9.7" height="142.23" fill="#9ad69a" stroke="#3a3a3a" stroke-width="0.7"/>
<line x1="574.9" y1="215.4" x2="574.9" y2="218.4" stroke="#222" stroke-width="0.9" />
<line x1="587.02" y1="215.4" x2="587.02" y2="217.1" stroke="#222" stroke-width="0.9" />
<text x="574.9" y="228.6" font-size="9.5" text-anchor="middle" font-weight="normal" font-style="normal" font-family='"Liberation Sans", sans-serif' fill="#111" >G</text>
<rect x="589.44" y="126.29" width="9.7" height="89.11" fill="#fdca8f" stroke="#3a3a3a" stroke-width="0.7"/>
<rect x="599.14" y="61.76" width="9.7" height="153.64" fill="#9ad69a" stroke="#3a3a3a" stroke-width="0.7"/>
<line x1="599.14" y1="215.4" x2="599.14" y2="218.4" stroke="#222" stroke-width="0.9" />
<line x1="611.26" y1="215.4" x2="611.26" y2="217.1" stroke="#222" stroke-width="0.9" />
<text x="599.14" y="228.6" font-size="9.5" text-anchor="middle" font-weight="normal" font-style="normal" font-family='"Liberation Sans", sans-serif' fill="#111" >H</text>
<rect x="613.69" y="151.9" width="9.7" height="63.5" fill="#fdca8f" stroke="#3a3a3a" stroke-width="0.7"/>
<rect x="623.39" y="91.47" width="9.7" height="123.93" fill="#9ad69a" stroke="#3a3a3a" stroke-width="0.7"/>
<line x1="623.39" y1="215.4" x2="623.39" y2="218.4" stroke="#222" stroke-width="0.9" />
<line x1="635.51" y1="215.4" x2="635.51" y2="217.1" stroke="#222" stroke-width="0.9" />
<text x="623.39" y="228.6" font-size="9.5" text-anchor="middle" font-weight="normal" font-style="normal" font-family='"Liberation Sans", sans-serif' fill="#111" >I</text>
<rect x="637.93" y="129.7" width="9.7" height="85.7" fill="#fdca8f" stroke="#3a3a3a" stroke-width="0.7"/>
<rect x="647.63" y="41.14" width="9.7" height="174.26" fill="#9ad69a" stroke="#3a3a3a" stroke-width="0.7"/>
<line x1="647.63" y1="215.4" x2="647.63" y2="218.4" stroke="#222" stroke-width="0.9" />
<line x1="659.75" y1="215.4" x2="659.75" y2="217.1" stroke="#222" stroke-width="0.9" />
<text x="647.63" y="228.6" font-size="9.5" text-anchor="middle" font-weight="normal" font-style="normal" font-family='"Liberation Sans", sans-serif' fill="#111" >J</text>
<rect x="662.18" y="141.79" width="9.7" height="73.61" fill="#fdca8f" stroke="#3a3a3a" stroke-width="0.7"/>
<rect x="671.88" y="87.57" width="9.7" height="127.83" fill="#9ad69a" stroke="#3a3a3a" stroke-width="0.7"/>
<line x1="671.88" y1="215.4" x2="671.88" y2="218.4" stroke="#222" stroke-width="0.9" />
<text x="671.88" y="228.6" font-size="9.5" text-anchor="middle" font-weight="normal" font-style="normal" font-family='"Liberation Sans", sans-serif' fill="#111" >K</text>
<rect x="417.3" y="10.55" width="266.7" height="204.85" fill="none" stroke="#3a3a3a" stroke-width="1.15"/>
<line x1="413.8" y1="215.4" x2="417.3" y2="215.4" stroke="#222" stroke-width="0.9" />
<text x="411.2" y="218.8" font-size="9.4" text-anchor="end" font-weight="normal" font-style="normal" font-family='"Liberation Sans", sans-serif' fill="#000" >0</text>
<line x1="415.3" y1="198.33" x2="417.3" y2="198.33" stroke="#222" stroke-width="0.9" />
<line x1="413.8" y1="181.26" x2="417.3" y2="181.26" stroke="#222" stroke-width="0.9" />
<text x="411.2" y="184.66" font-size="9.4" text-anchor="end" font-weight="normal" font-style="normal" font-family='"Liberation Sans", sans-serif' fill="#000" >-5</text>
<line x1="415.3" y1="164.19" x2="417.3" y2="164.19" stroke="#222" stroke-width="0.9" />
<line x1="413.8" y1="147.12" x2="417.3" y2="147.12" stroke="#222" stroke-width="0.9" />
<text x="411.2" y="150.52" font-size="9.4" text-anchor="end" font-weight="normal" font-style="normal" font-family='"Liberation Sans", sans-serif' fill="#000" >-10</text>
<line x1="415.3" y1="130.05" x2="417.3" y2="130.05" stroke="#222" stroke-width="0.9" />
<line x1="413.8" y1="112.98" x2="417.3" y2="112.98" stroke="#222" stroke-width="0.9" />
<text x="411.2" y="116.38" font-size="9.4" text-anchor="end" font-weight="normal" font-style="normal" font-family='"Liberation Sans", sans-serif' fill="#000" >-15</text>
<line x1="415.3" y1="95.9" x2="417.3" y2="95.9" stroke="#222" stroke-width="0.9" />
<line x1="413.8" y1="78.83" x2="417.3" y2="78.83" stroke="#222" stroke-width="0.9" />
<text x="411.2" y="82.23" font-size="9.4" text-anchor="end" font-weight="normal" font-style="normal" font-family='"Liberation Sans", sans-serif' fill="#000" >-20</text>
<line x1="415.3" y1="61.76" x2="417.3" y2="61.76" stroke="#222" stroke-width="0.9" />
<line x1="413.8" y1="44.69" x2="417.3" y2="44.69" stroke="#222" stroke-width="0.9" />
<text x="411.2" y="48.09" font-size="9.4" text-anchor="end" font-weight="normal" font-style="normal" font-family='"Liberation Sans", sans-serif' fill="#000" >-25</text>
<line x1="415.3" y1="27.62" x2="417.3" y2="27.62" stroke="#222" stroke-width="0.9" />
<line x1="413.8" y1="10.55" x2="417.3" y2="10.55" stroke="#222" stroke-width="0.9" />
<text x="411.2" y="13.95" font-size="9.4" text-anchor="end" font-weight="normal" font-style="normal" font-family='"Liberation Sans", sans-serif' fill="#000" >-30</text>
<rect x="423.8" y="16.4" width="72.6" height="24.8" fill="#fff" stroke="#9a9a9a" stroke-width="0.7"/>
<rect x="425.4" y="18" width="20.8" height="10" fill="#fdca8f" stroke="#777" stroke-width="0.7"/>
<rect x="425.4" y="29.7" width="20.8" height="10" fill="#9ad69a" stroke="#777" stroke-width="0.7"/>
<text x="449" y="26.5" font-size="9.6" text-anchor="start" font-weight="normal" font-style="normal" font-family='"Liberation Sans", sans-serif' fill="#111" >Complex-I</text>
<text x="449" y="38" font-size="9.6" text-anchor="start" font-weight="normal" font-style="normal" font-family='"Liberation Sans", sans-serif' fill="#111" >Complex-II</text>
<text x="545.9" y="242.5" font-size="10.25" text-anchor="middle" font-weight="normal" font-style="normal" font-family='"Liberation Sans", sans-serif' fill="#111" >aromatic compounds</text>
<text transform="translate(396.2,113.8) rotate(-90)" font-size="10" text-anchor="middle" style="stroke-width:0.15px" font-family='"Liberation Sans", sans-serif' fill="#111"><tspan font-family='"Liberation Serif", serif'>&#916;&#916;</tspan><tspan font-style="italic">H</tspan> / kJ mol<tspan font-size="6.5" dy="-3.5">-1</tspan></text>
</g>
</svg>
</body></html>
